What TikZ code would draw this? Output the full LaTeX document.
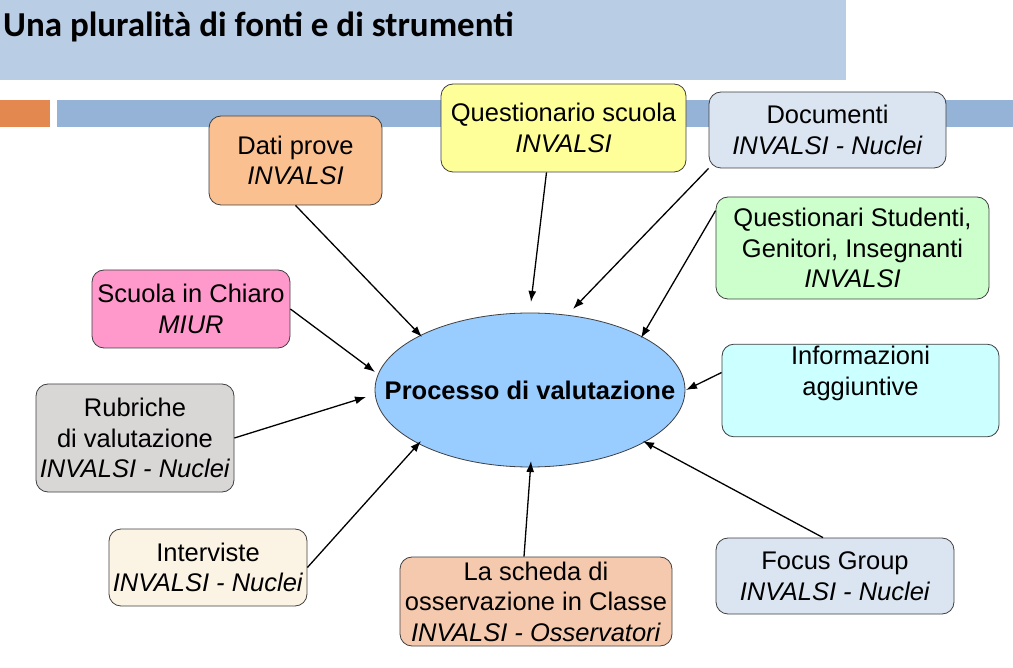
\documentclass[tikz,border=0pt]{standalone}
\usepackage{fontspec}
\setmainfont{Liberation Sans}
\newfontfamily\titlefont{Carlito}
\usetikzlibrary{arrows.meta,calc,shapes.geometric}
\definecolor{headbg}{HTML}{B9CDE5}
\definecolor{barblue}{HTML}{95B3D7}
\definecolor{barorange}{HTML}{E3884E}
\definecolor{boxline}{HTML}{404040}
\definecolor{cdati}{HTML}{FAC090}
\definecolor{cqs}{HTML}{FFFF99}
\definecolor{cdoc}{HTML}{DBE5F1}
\definecolor{cstud}{HTML}{CCFFCC}
\definecolor{cchiaro}{HTML}{FF99CC}
\definecolor{crub}{HTML}{D9D6D6}
\definecolor{cinfo}{HTML}{CCFFFF}
\definecolor{cintv}{HTML}{FBF3E4}
\definecolor{csched}{HTML}{F5C9AE}
\definecolor{cell}{HTML}{99CCFF}
\begin{document}
\begin{tikzpicture}[x=1pt,y=-1pt,
  box/.style={draw=boxline, line width=0.8pt, rounded corners=12pt, align=center,
    inner sep=2pt, font=\fontsize{25.5}{30.5}\selectfont},
  conn/.style={line width=1.3pt, -{Latex[length=11pt,width=8pt]}}]
\path[use as bounding box, fill=white] (0,0) rectangle (1013,668);
% header
\fill[headbg] (0,0) rectangle (846,80);
\node[anchor=base west, inner sep=0pt, font=\titlefont\bfseries\fontsize{35}{38}\selectfont] (title) at (3,37) {Una pluralità di fonti e di strumenti};
\fill[barorange] (0,100) rectangle (50,127);
\fill[barblue] (57,100) rectangle (1013,127);
% central ellipse
\node[ellipse, draw=boxline, line width=0.8pt, fill=cell, minimum width=310pt, minimum height=154pt, inner sep=0pt] (proc) at (530,390) {};
\node[inner sep=0pt, font=\bfseries\fontsize{25.5}{28}\selectfont] (proctext) at (proc.center) {Processo di valutazione};
% boxes
\node[box, fill=cdati, minimum width=173pt, minimum height=89pt] (dati) at (295.5,160.5) {Dati prove\\\textit{INVALSI}};
\node[box, fill=cqs, minimum width=245pt, minimum height=88pt] (qs) at (563.5,128) {Questionario scuola\\\textit{INVALSI}};
\node[box, fill=cdoc, minimum width=237pt, minimum height=76pt] (doc) at (827.5,130) {Documenti\\\textit{INVALSI - Nuclei}};
\node[box, fill=cstud, minimum width=273pt, minimum height=102pt] (qstud) at (852.5,248) {Questionari Studenti,\\Genitori, Insegnanti\\\textit{INVALSI}};
\node[box, fill=cchiaro, minimum width=198pt, minimum height=78pt] (chiaro) at (191,309) {Scuola in Chiaro\\\textit{MIUR}};
\node[box, fill=crub, minimum width=198pt, minimum height=108pt] (rub) at (135,438) {Rubriche\\di valutazione\\\textit{INVALSI - Nuclei}};
\node[box, fill=cinfo, minimum width=277pt, minimum height=89pt] (info) at (860.5,390.5) {Informazioni\\aggiuntive\\\strut};
\node[box, fill=cintv, minimum width=198pt, minimum height=77pt] (intv) at (208,567.5) {Interviste\\\textit{INVALSI - Nuclei}};
\node[box, fill=csched, minimum width=272pt, minimum height=89pt] (sched) at (536,601.5) {La scheda di\\osservazione in Classe\\\textit{INVALSI - Osservatori}};
\node[box, fill=cdoc, minimum width=238pt, minimum height=76pt] (focus) at (835,576) {Focus Group\\\textit{INVALSI - Nuclei}};
% arrow end points near the ellipse
\coordinate (eDati) at (422,337);
\coordinate (eQs) at (531,302);
\coordinate (eDoc) at (573,309);
\coordinate (eStud) at (641,338);
\coordinate (eChiaro) at (375,372);
\coordinate (eRub) at (366,397);
\coordinate (eInfo) at (686,390);
\coordinate (eIntv) at (421,441);
\coordinate (eSched) at (531,461);
\coordinate (eFocus) at (643,441);
% connectors
\draw[conn] (dati.south) -- (eDati);
\draw[conn] ($(qs.south)+(-17,0)$) -- (eQs);
\draw[conn] (doc.south west) -- (eDoc);
\draw[conn] ($(qstud.north west)+(0,14)$) -- (eStud);
\draw[conn] (chiaro.east) -- (eChiaro);
\draw[conn] (rub.east) -- (eRub);
\draw[conn] ($(info.west)+(0,-18)$) -- (eInfo);
\draw[conn] (intv.east) -- (eIntv);
\draw[conn] ($(sched.north)+(-12,0)$) -- (eSched);
\draw[conn] ($(focus.north)+(-12,0)$) -- (eFocus);
\end{tikzpicture}
\end{document}
